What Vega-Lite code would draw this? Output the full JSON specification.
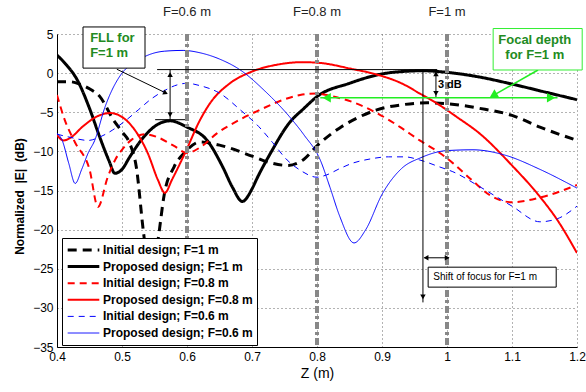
{
  "$schema": "https://vega.github.io/schema/vega-lite/v6.json",
  "width": 520,
  "height": 313,
  "autosize": {"type": "none"},
  "padding": {"left": 57, "top": 34, "right": 9, "bottom": 45},
  "background": "white",
  "config": {
    "view": {"stroke": null},
    "font": "Liberation Sans",
    "axis": {
      "grid": true,
      "gridColor": "#666666",
      "gridDash": [1, 3],
      "gridOpacity": 1,
      "gridWidth": 1,
      "domainColor": "#000000",
      "domainWidth": 1,
      "ticks": false,
      "labelOverlap": false,
      "labelFlush": false,
      "tickCount": 20,
      "labelFont": "Liberation Sans",
      "labelFontSize": 12,
      "labelColor": "#000000",
      "titleFont": "Liberation Sans",
      "titleColor": "#000000"
    }
  },
  "datasets": {
    "curves": [
      {"s": "Initial design; F=1 m", "z": 0.400, "db": -1.1},
      {"s": "Initial design; F=1 m", "z": 0.420, "db": -1.1},
      {"s": "Initial design; F=1 m", "z": 0.435, "db": -1.4},
      {"s": "Initial design; F=1 m", "z": 0.450, "db": -2.0},
      {"s": "Initial design; F=1 m", "z": 0.466, "db": -3.0},
      {"s": "Initial design; F=1 m", "z": 0.487, "db": -6.0},
      {"s": "Initial design; F=1 m", "z": 0.500, "db": -7.5},
      {"s": "Initial design; F=1 m", "z": 0.512, "db": -9.0},
      {"s": "Initial design; F=1 m", "z": 0.522, "db": -12.0},
      {"s": "Initial design; F=1 m", "z": 0.533, "db": -20.3},
      {"s": "Initial design; F=1 m", "z": 0.545, "db": -27.0},
      {"s": "Initial design; F=1 m", "z": 0.556, "db": -21.0},
      {"s": "Initial design; F=1 m", "z": 0.565, "db": -15.5},
      {"s": "Initial design; F=1 m", "z": 0.580, "db": -12.0},
      {"s": "Initial design; F=1 m", "z": 0.597, "db": -10.1},
      {"s": "Initial design; F=1 m", "z": 0.620, "db": -8.8},
      {"s": "Initial design; F=1 m", "z": 0.650, "db": -9.2},
      {"s": "Initial design; F=1 m", "z": 0.700, "db": -10.6},
      {"s": "Initial design; F=1 m", "z": 0.730, "db": -11.5},
      {"s": "Initial design; F=1 m", "z": 0.755, "db": -11.8},
      {"s": "Initial design; F=1 m", "z": 0.780, "db": -11.0},
      {"s": "Initial design; F=1 m", "z": 0.800, "db": -9.3},
      {"s": "Initial design; F=1 m", "z": 0.835, "db": -7.0},
      {"s": "Initial design; F=1 m", "z": 0.865, "db": -5.6},
      {"s": "Initial design; F=1 m", "z": 0.892, "db": -4.7},
      {"s": "Initial design; F=1 m", "z": 0.935, "db": -4.0},
      {"s": "Initial design; F=1 m", "z": 0.970, "db": -3.8},
      {"s": "Initial design; F=1 m", "z": 1.000, "db": -3.9},
      {"s": "Initial design; F=1 m", "z": 1.050, "db": -4.5},
      {"s": "Initial design; F=1 m", "z": 1.100, "db": -5.4},
      {"s": "Initial design; F=1 m", "z": 1.143, "db": -6.9},
      {"s": "Initial design; F=1 m", "z": 1.200, "db": -8.6},

      {"s": "Proposed design; F=1 m", "z": 0.400, "db": 2.3},
      {"s": "Proposed design; F=1 m", "z": 0.415, "db": 1.0},
      {"s": "Proposed design; F=1 m", "z": 0.430, "db": -0.7},
      {"s": "Proposed design; F=1 m", "z": 0.450, "db": -4.5},
      {"s": "Proposed design; F=1 m", "z": 0.465, "db": -8.0},
      {"s": "Proposed design; F=1 m", "z": 0.480, "db": -11.2},
      {"s": "Proposed design; F=1 m", "z": 0.489, "db": -12.8},
      {"s": "Proposed design; F=1 m", "z": 0.500, "db": -12.3},
      {"s": "Proposed design; F=1 m", "z": 0.512, "db": -10.7},
      {"s": "Proposed design; F=1 m", "z": 0.533, "db": -8.2},
      {"s": "Proposed design; F=1 m", "z": 0.554, "db": -6.6},
      {"s": "Proposed design; F=1 m", "z": 0.574, "db": -6.1},
      {"s": "Proposed design; F=1 m", "z": 0.600, "db": -6.9},
      {"s": "Proposed design; F=1 m", "z": 0.631, "db": -8.6},
      {"s": "Proposed design; F=1 m", "z": 0.655, "db": -12.0},
      {"s": "Proposed design; F=1 m", "z": 0.670, "db": -14.6},
      {"s": "Proposed design; F=1 m", "z": 0.685, "db": -16.4},
      {"s": "Proposed design; F=1 m", "z": 0.700, "db": -14.8},
      {"s": "Proposed design; F=1 m", "z": 0.708, "db": -13.4},
      {"s": "Proposed design; F=1 m", "z": 0.728, "db": -10.3},
      {"s": "Proposed design; F=1 m", "z": 0.758, "db": -6.3},
      {"s": "Proposed design; F=1 m", "z": 0.780, "db": -4.5},
      {"s": "Proposed design; F=1 m", "z": 0.800, "db": -3.0},
      {"s": "Proposed design; F=1 m", "z": 0.850, "db": -1.3},
      {"s": "Proposed design; F=1 m", "z": 0.900, "db": -0.1},
      {"s": "Proposed design; F=1 m", "z": 0.930, "db": 0.2},
      {"s": "Proposed design; F=1 m", "z": 0.963, "db": 0.3},
      {"s": "Proposed design; F=1 m", "z": 1.000, "db": 0.1},
      {"s": "Proposed design; F=1 m", "z": 1.050, "db": -0.5},
      {"s": "Proposed design; F=1 m", "z": 1.100, "db": -1.4},
      {"s": "Proposed design; F=1 m", "z": 1.150, "db": -2.4},
      {"s": "Proposed design; F=1 m", "z": 1.200, "db": -3.4},

      {"s": "Initial design; F=0.8 m", "z": 0.400, "db": -2.8},
      {"s": "Initial design; F=0.8 m", "z": 0.412, "db": -6.0},
      {"s": "Initial design; F=0.8 m", "z": 0.428, "db": -8.9},
      {"s": "Initial design; F=0.8 m", "z": 0.450, "db": -12.3},
      {"s": "Initial design; F=0.8 m", "z": 0.463, "db": -17.1},
      {"s": "Initial design; F=0.8 m", "z": 0.478, "db": -13.3},
      {"s": "Initial design; F=0.8 m", "z": 0.490, "db": -11.0},
      {"s": "Initial design; F=0.8 m", "z": 0.500, "db": -9.8},
      {"s": "Initial design; F=0.8 m", "z": 0.515, "db": -8.5},
      {"s": "Initial design; F=0.8 m", "z": 0.535, "db": -7.8},
      {"s": "Initial design; F=0.8 m", "z": 0.555, "db": -8.2},
      {"s": "Initial design; F=0.8 m", "z": 0.580, "db": -9.3},
      {"s": "Initial design; F=0.8 m", "z": 0.600, "db": -10.2},
      {"s": "Initial design; F=0.8 m", "z": 0.620, "db": -9.5},
      {"s": "Initial design; F=0.8 m", "z": 0.646, "db": -7.7},
      {"s": "Initial design; F=0.8 m", "z": 0.680, "db": -6.0},
      {"s": "Initial design; F=0.8 m", "z": 0.712, "db": -4.7},
      {"s": "Initial design; F=0.8 m", "z": 0.745, "db": -3.5},
      {"s": "Initial design; F=0.8 m", "z": 0.774, "db": -2.8},
      {"s": "Initial design; F=0.8 m", "z": 0.800, "db": -2.6},
      {"s": "Initial design; F=0.8 m", "z": 0.820, "db": -2.9},
      {"s": "Initial design; F=0.8 m", "z": 0.855, "db": -3.7},
      {"s": "Initial design; F=0.8 m", "z": 0.892, "db": -5.1},
      {"s": "Initial design; F=0.8 m", "z": 0.928, "db": -6.9},
      {"s": "Initial design; F=0.8 m", "z": 0.958, "db": -8.6},
      {"s": "Initial design; F=0.8 m", "z": 0.989, "db": -10.2},
      {"s": "Initial design; F=0.8 m", "z": 1.009, "db": -11.5},
      {"s": "Initial design; F=0.8 m", "z": 1.040, "db": -13.8},
      {"s": "Initial design; F=0.8 m", "z": 1.066, "db": -15.6},
      {"s": "Initial design; F=0.8 m", "z": 1.100, "db": -16.5},
      {"s": "Initial design; F=0.8 m", "z": 1.143, "db": -15.9},
      {"s": "Initial design; F=0.8 m", "z": 1.200, "db": -14.3},

      {"s": "Proposed design; F=0.8 m", "z": 0.400, "db": -7.9},
      {"s": "Proposed design; F=0.8 m", "z": 0.410, "db": -8.6},
      {"s": "Proposed design; F=0.8 m", "z": 0.420, "db": -8.3},
      {"s": "Proposed design; F=0.8 m", "z": 0.440, "db": -6.8},
      {"s": "Proposed design; F=0.8 m", "z": 0.460, "db": -5.6},
      {"s": "Proposed design; F=0.8 m", "z": 0.482, "db": -5.1},
      {"s": "Proposed design; F=0.8 m", "z": 0.500, "db": -5.6},
      {"s": "Proposed design; F=0.8 m", "z": 0.520, "db": -7.3},
      {"s": "Proposed design; F=0.8 m", "z": 0.540, "db": -10.3},
      {"s": "Proposed design; F=0.8 m", "z": 0.555, "db": -13.6},
      {"s": "Proposed design; F=0.8 m", "z": 0.566, "db": -15.3},
      {"s": "Proposed design; F=0.8 m", "z": 0.577, "db": -13.6},
      {"s": "Proposed design; F=0.8 m", "z": 0.597, "db": -10.2},
      {"s": "Proposed design; F=0.8 m", "z": 0.620, "db": -6.0},
      {"s": "Proposed design; F=0.8 m", "z": 0.635, "db": -3.9},
      {"s": "Proposed design; F=0.8 m", "z": 0.666, "db": -1.3},
      {"s": "Proposed design; F=0.8 m", "z": 0.697, "db": 0.1},
      {"s": "Proposed design; F=0.8 m", "z": 0.740, "db": 1.1},
      {"s": "Proposed design; F=0.8 m", "z": 0.778, "db": 1.4},
      {"s": "Proposed design; F=0.8 m", "z": 0.805, "db": 1.3},
      {"s": "Proposed design; F=0.8 m", "z": 0.850, "db": 0.6},
      {"s": "Proposed design; F=0.8 m", "z": 0.897, "db": -0.3},
      {"s": "Proposed design; F=0.8 m", "z": 0.930, "db": -1.3},
      {"s": "Proposed design; F=0.8 m", "z": 0.958, "db": -2.6},
      {"s": "Proposed design; F=0.8 m", "z": 0.985, "db": -3.9},
      {"s": "Proposed design; F=0.8 m", "z": 1.015, "db": -5.6},
      {"s": "Proposed design; F=0.8 m", "z": 1.050, "db": -7.7},
      {"s": "Proposed design; F=0.8 m", "z": 1.100, "db": -11.8},
      {"s": "Proposed design; F=0.8 m", "z": 1.143, "db": -15.8},
      {"s": "Proposed design; F=0.8 m", "z": 1.170, "db": -18.8},
      {"s": "Proposed design; F=0.8 m", "z": 1.200, "db": -23.0},

      {"s": "Initial design; F=0.6 m", "z": 0.400, "db": -7.8},
      {"s": "Initial design; F=0.6 m", "z": 0.420, "db": -8.2},
      {"s": "Initial design; F=0.6 m", "z": 0.448, "db": -8.6},
      {"s": "Initial design; F=0.6 m", "z": 0.465, "db": -8.2},
      {"s": "Initial design; F=0.6 m", "z": 0.485, "db": -7.3},
      {"s": "Initial design; F=0.6 m", "z": 0.505, "db": -6.1},
      {"s": "Initial design; F=0.6 m", "z": 0.525, "db": -4.7},
      {"s": "Initial design; F=0.6 m", "z": 0.545, "db": -3.3},
      {"s": "Initial design; F=0.6 m", "z": 0.566, "db": -2.2},
      {"s": "Initial design; F=0.6 m", "z": 0.585, "db": -1.5},
      {"s": "Initial design; F=0.6 m", "z": 0.600, "db": -1.3},
      {"s": "Initial design; F=0.6 m", "z": 0.620, "db": -1.6},
      {"s": "Initial design; F=0.6 m", "z": 0.651, "db": -2.6},
      {"s": "Initial design; F=0.6 m", "z": 0.682, "db": -4.7},
      {"s": "Initial design; F=0.6 m", "z": 0.710, "db": -6.8},
      {"s": "Initial design; F=0.6 m", "z": 0.732, "db": -8.9},
      {"s": "Initial design; F=0.6 m", "z": 0.754, "db": -11.1},
      {"s": "Initial design; F=0.6 m", "z": 0.774, "db": -12.4},
      {"s": "Initial design; F=0.6 m", "z": 0.800, "db": -13.3},
      {"s": "Initial design; F=0.6 m", "z": 0.815, "db": -13.0},
      {"s": "Initial design; F=0.6 m", "z": 0.835, "db": -12.2},
      {"s": "Initial design; F=0.6 m", "z": 0.855, "db": -11.5},
      {"s": "Initial design; F=0.6 m", "z": 0.880, "db": -11.0},
      {"s": "Initial design; F=0.6 m", "z": 0.910, "db": -10.7},
      {"s": "Initial design; F=0.6 m", "z": 0.935, "db": -10.7},
      {"s": "Initial design; F=0.6 m", "z": 0.958, "db": -11.1},
      {"s": "Initial design; F=0.6 m", "z": 0.989, "db": -12.0},
      {"s": "Initial design; F=0.6 m", "z": 1.009, "db": -12.6},
      {"s": "Initial design; F=0.6 m", "z": 1.050, "db": -14.5},
      {"s": "Initial design; F=0.6 m", "z": 1.100, "db": -17.0},
      {"s": "Initial design; F=0.6 m", "z": 1.143, "db": -19.0},
      {"s": "Initial design; F=0.6 m", "z": 1.170, "db": -18.6},
      {"s": "Initial design; F=0.6 m", "z": 1.200, "db": -17.0},

      {"s": "Proposed design; F=0.6 m", "z": 0.400, "db": -7.7},
      {"s": "Proposed design; F=0.6 m", "z": 0.408, "db": -8.6},
      {"s": "Proposed design; F=0.6 m", "z": 0.418, "db": -11.5},
      {"s": "Proposed design; F=0.6 m", "z": 0.428, "db": -14.1},
      {"s": "Proposed design; F=0.6 m", "z": 0.438, "db": -12.3},
      {"s": "Proposed design; F=0.6 m", "z": 0.448, "db": -10.2},
      {"s": "Proposed design; F=0.6 m", "z": 0.458, "db": -8.6},
      {"s": "Proposed design; F=0.6 m", "z": 0.474, "db": -4.3},
      {"s": "Proposed design; F=0.6 m", "z": 0.500, "db": 0.0},
      {"s": "Proposed design; F=0.6 m", "z": 0.520, "db": 1.4},
      {"s": "Proposed design; F=0.6 m", "z": 0.540, "db": 2.3},
      {"s": "Proposed design; F=0.6 m", "z": 0.565, "db": 2.8},
      {"s": "Proposed design; F=0.6 m", "z": 0.594, "db": 2.9},
      {"s": "Proposed design; F=0.6 m", "z": 0.620, "db": 2.6},
      {"s": "Proposed design; F=0.6 m", "z": 0.650, "db": 1.8},
      {"s": "Proposed design; F=0.6 m", "z": 0.682, "db": 0.4},
      {"s": "Proposed design; F=0.6 m", "z": 0.720, "db": -2.3},
      {"s": "Proposed design; F=0.6 m", "z": 0.758, "db": -5.6},
      {"s": "Proposed design; F=0.6 m", "z": 0.780, "db": -7.9},
      {"s": "Proposed design; F=0.6 m", "z": 0.805, "db": -11.1},
      {"s": "Proposed design; F=0.6 m", "z": 0.820, "db": -14.6},
      {"s": "Proposed design; F=0.6 m", "z": 0.835, "db": -18.3},
      {"s": "Proposed design; F=0.6 m", "z": 0.857, "db": -21.7},
      {"s": "Proposed design; F=0.6 m", "z": 0.875, "db": -20.0},
      {"s": "Proposed design; F=0.6 m", "z": 0.900, "db": -15.5},
      {"s": "Proposed design; F=0.6 m", "z": 0.930, "db": -12.2},
      {"s": "Proposed design; F=0.6 m", "z": 0.960, "db": -10.8},
      {"s": "Proposed design; F=0.6 m", "z": 1.000, "db": -9.9},
      {"s": "Proposed design; F=0.6 m", "z": 1.040, "db": -9.8},
      {"s": "Proposed design; F=0.6 m", "z": 1.090, "db": -10.5},
      {"s": "Proposed design; F=0.6 m", "z": 1.143, "db": -12.3},
      {"s": "Proposed design; F=0.6 m", "z": 1.200, "db": -14.7}
    ],
    "focus": [
      {"z": 0.6, "label": "F=0.6 m", "ty": 7.8},
      {"z": 0.8, "label": "F=0.8 m", "ty": 7.8},
      {"z": 1.0, "label": "F=1 m", "ty": 7.8}
    ]
  },
  "layer": [
    {
      "data": {"name": "curves"},
      "mark": {"type": "line", "interpolate": "monotone", "clip": true},
      "encoding": {
        "x": {"field": "z", "type": "quantitative",
          "scale": {"domain": [0.4, 1.2], "nice": false, "zero": false},
          "axis": {"values": [0.4, 0.5, 0.6, 0.7, 0.8, 0.9, 1.0, 1.1, 1.2], "tickCount": 20, "format": "~g", "labelOverlap": false, "labelFlush": false, "title": "Z (m)", "titleFontSize": 14, "titleFontWeight": "normal", "titlePadding": 4, "labelPadding": 4}},
        "y": {"field": "db", "type": "quantitative",
          "scale": {"domain": [-35, 5], "nice": false, "zero": false},
          "axis": {"values": [-35, -30, -25, -20, -15, -10, -5, 0, 5], "tickCount": 20, "format": "d", "labelOverlap": false, "labelFlush": false, "title": "Normalized \u00a0|E| \u00a0(dB)", "titleFontSize": 12, "titleFontWeight": "bold", "titlePadding": 6, "titleY": 162, "labelPadding": 4}},
        "color": {"field": "s", "type": "nominal",
          "scale": {"domain": ["Initial design; F=1 m", "Proposed design; F=1 m", "Initial design; F=0.8 m", "Proposed design; F=0.8 m", "Initial design; F=0.6 m", "Proposed design; F=0.6 m"],
                    "range": ["#000000", "#000000", "#ff0000", "#ff0000", "#0000ff", "#0000ff"]},
          "legend": {"orient": "none", "legendX": 5, "legendY": 204, "title": null, "fillColor": "white", "strokeColor": "#000000", "padding": 4, "symbolType": "stroke", "symbolSize": 1000, "clipHeight": 16, "labelFontSize": 12, "labelFontWeight": "bold", "labelColor": "#000000", "labelLimit": 300, "labelOffset": 2, "rowPadding": 0.6, "zindex": 5}},
        "strokeDash": {"field": "s", "type": "nominal",
          "scale": {"domain": ["Initial design; F=1 m", "Proposed design; F=1 m", "Initial design; F=0.8 m", "Proposed design; F=0.8 m", "Initial design; F=0.6 m", "Proposed design; F=0.6 m"],
                    "range": [[9, 6], [1, 0], [7, 5], [1, 0], [6, 5], [1, 0]]},
          "legend": {"orient": "none", "legendX": 5, "legendY": 204, "title": null, "clipHeight": 16, "rowPadding": 0.6}},
        "strokeWidth": {"field": "s", "type": "nominal",
          "scale": {"type": "ordinal", "domain": ["Initial design; F=1 m", "Proposed design; F=1 m", "Initial design; F=0.8 m", "Proposed design; F=0.8 m", "Initial design; F=0.6 m", "Proposed design; F=0.6 m"],
                    "range": [3, 3, 2, 2, 1, 1]},
          "legend": {"orient": "none", "legendX": 5, "legendY": 204, "title": null, "clipHeight": 16, "rowPadding": 0.6}}
      }
    },
    {
      "data": {"name": "focus"},
      "mark": {"type": "rule", "color": "#888888", "strokeWidth": 4, "strokeDash": [7, 3, 3, 3]},
      "encoding": {"x": {"field": "z", "type": "quantitative"}}
    },
    {
      "data": {"name": "focus"},
      "mark": {"type": "text", "fontSize": 13, "color": "#222222", "baseline": "middle", "align": "center", "clip": false},
      "encoding": {"x": {"field": "z", "type": "quantitative"}, "y": {"field": "ty", "type": "quantitative"}, "text": {"field": "label"}}
    },
    {
      "data": {"values": [
        {"z": 0.554, "z2": 0.985, "d": 0.45, "d2": 0.45},
        {"z": 0.551, "z2": 0.597, "d": -5.95, "d2": -5.95},
        {"z": 0.574, "z2": 0.574, "d": 0.45, "d2": -5.95},
        {"z": 0.492, "z2": 0.569, "d": 0.5, "d2": -2.6},
        {"z": 0.983, "z2": 0.983, "d": 0.45, "d2": -3.15},
        {"z": 0.963, "z2": 0.963, "d": 0.45, "d2": -29.3},
        {"z": 0.965, "z2": 1.003, "d": -23.6, "d2": -23.6}
      ]},
      "mark": {"type": "rule", "color": "#000000", "strokeWidth": 1},
      "encoding": {"x": {"field": "z", "type": "quantitative"}, "x2": {"field": "z2"}, "y": {"field": "d", "type": "quantitative"}, "y2": {"field": "d2"}}
    },
    {
      "data": {"values": [
        {"z": 0.805, "z2": 1.17, "d": -3.15, "d2": -3.15},
        {"z": 1.14, "z2": 1.068, "d": 0.4, "d2": -3.0}
      ]},
      "mark": {"type": "rule", "color": "#22ee22", "strokeWidth": 1.5},
      "encoding": {"x": {"field": "z", "type": "quantitative"}, "x2": {"field": "z2"}, "y": {"field": "d", "type": "quantitative"}, "y2": {"field": "d2"}}
    },
    {
      "data": {"values": [
        {"z": 0.574, "d": -0.3, "a": 0},
        {"z": 0.574, "d": -5.2, "a": 180},
        {"z": 0.566, "d": -2.5, "a": 116},
        {"z": 0.983, "d": -0.2, "a": 0},
        {"z": 0.983, "d": -2.5, "a": 180},
        {"z": 0.963, "d": -28.5, "a": 180},
        {"z": 0.969, "d": -23.6, "a": 270},
        {"z": 0.999, "d": -23.6, "a": 90}
      ]},
      "mark": {"type": "point", "shape": "triangle", "filled": true, "color": "#000000", "size": 30, "opacity": 1},
      "encoding": {"x": {"field": "z", "type": "quantitative"}, "y": {"field": "d", "type": "quantitative"}, "angle": {"field": "a", "type": "quantitative", "scale": null}}
    },
    {
      "data": {"values": [
        {"z": 0.817, "d": -3.15, "a": 270},
        {"z": 1.158, "d": -3.15, "a": 90},
        {"z": 1.073, "d": -2.75, "a": 240}
      ]},
      "mark": {"type": "point", "shape": "triangle", "filled": true, "color": "#22ee22", "size": 90, "opacity": 1},
      "encoding": {"x": {"field": "z", "type": "quantitative"}, "y": {"field": "d", "type": "quantitative"}, "angle": {"field": "a", "type": "quantitative", "scale": null}}
    },
    {
      "data": {"values": [{"z": 0.44, "z2": 0.5354, "d": 5.9, "d2": 0.64}]},
      "mark": {"type": "rect", "fill": "white", "stroke": "#000000", "strokeWidth": 1, "clip": false},
      "encoding": {"x": {"field": "z", "type": "quantitative"}, "x2": {"field": "z2"}, "y": {"field": "d", "type": "quantitative"}, "y2": {"field": "d2"}}
    },
    {
      "data": {"values": [{"z": 1.071, "z2": 1.208, "d": 5.7, "d2": 0.4}]},
      "mark": {"type": "rect", "fill": "white", "stroke": "#33ee33", "strokeWidth": 1, "clip": false},
      "encoding": {"x": {"field": "z", "type": "quantitative"}, "x2": {"field": "z2"}, "y": {"field": "d", "type": "quantitative"}, "y2": {"field": "d2"}}
    },
    {
      "data": {"values": [{"z": 0.971, "z2": 1.168, "d": -24.8, "d2": -27.35}]},
      "mark": {"type": "rect", "fill": "white", "stroke": "#000000", "strokeWidth": 1},
      "encoding": {"x": {"field": "z", "type": "quantitative"}, "x2": {"field": "z2"}, "y": {"field": "d", "type": "quantitative"}, "y2": {"field": "d2"}}
    },
    {
      "data": {"values": [
        {"z": 0.451, "d": 4.47, "t": "FLL for"},
        {"z": 0.451, "d": 2.55, "t": "F=1 m"}
      ]},
      "mark": {"type": "text", "align": "left", "baseline": "middle", "fontSize": 13, "fontWeight": "bold", "color": "#228b22", "clip": false},
      "encoding": {"x": {"field": "z", "type": "quantitative"}, "y": {"field": "d", "type": "quantitative"}, "text": {"field": "t"}}
    },
    {
      "data": {"values": [
        {"z": 1.135, "d": 4.2, "t": "Focal depth"},
        {"z": 1.135, "d": 2.3, "t": "for F=1 m"}
      ]},
      "mark": {"type": "text", "align": "center", "baseline": "middle", "fontSize": 13, "fontWeight": "bold", "color": "#228b22", "clip": false},
      "encoding": {"x": {"field": "z", "type": "quantitative"}, "y": {"field": "d", "type": "quantitative"}, "text": {"field": "t"}}
    },
    {
      "data": {"values": [{"z": 0.986, "d": -1.5, "t": "3 dB"}]},
      "mark": {"type": "text", "align": "left", "baseline": "middle", "fontSize": 11, "fontWeight": "bold", "color": "#000000"},
      "encoding": {"x": {"field": "z", "type": "quantitative"}, "y": {"field": "d", "type": "quantitative"}, "text": {"field": "t"}}
    },
    {
      "data": {"values": [{"z": 0.979, "d": -26.1, "t": "Shift of focus for F=1 m"}]},
      "mark": {"type": "text", "align": "left", "baseline": "middle", "fontSize": 10, "color": "#000000"},
      "encoding": {"x": {"field": "z", "type": "quantitative"}, "y": {"field": "d", "type": "quantitative"}, "text": {"field": "t"}}
    }
  ]
}
